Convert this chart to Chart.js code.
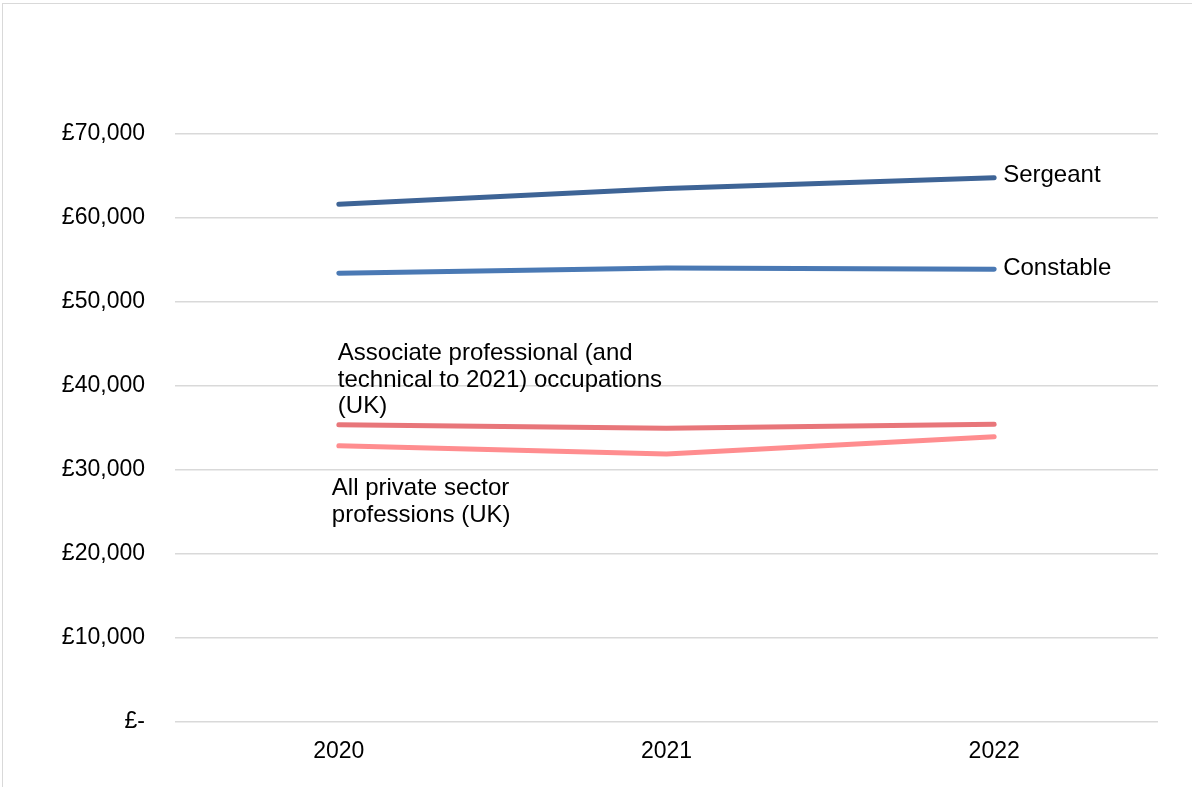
<!DOCTYPE html>
<html>
<head>
<meta charset="utf-8">
<script src="https://cdn.jsdelivr.net/npm/chart.js@4/dist/chart.umd.min.js"></script>
<style>
  html, body { margin: 0; padding: 0; background: #fff; overflow: hidden; }
  #frame { position: absolute; left: 2px; top: 3px; width: 1220px; height: 820px; border: 1px solid #d9d9d9; }
  #wrap { position: absolute; left: 0; top: 0; width: 1192px; height: 787px; }
</style>
</head>
<body>
<div id="frame"></div>
<div id="wrap"><canvas id="payChart"></canvas></div>
<script>
const years = ['2020', '2021', '2022'];
const sergeant = [61630, 63520, 64800];
const constable = [53420, 54050, 53890];
const associateProf = [35390, 34960, 35440];
const privateSector = [32890, 31900, 33960];

const FONT = '"Liberation Sans", Arial, sans-serif';

// labels drawn next to the lines instead of a legend
const lineLabels = {
    id: 'lineLabels',
    afterDatasetsDraw(chart) {
        const ctx = chart.ctx;
        ctx.save();
        ctx.font = '24px ' + FONT;
        ctx.fillStyle = '#000';
        ctx.textBaseline = 'middle';
        ctx.textAlign = 'left';

        const last = i => chart.getDatasetMeta(i).data[2];
        const first = i => chart.getDatasetMeta(i).data[0];

        ctx.fillText('Sergeant', last(0).x + 9, last(0).y - 2);
        ctx.fillText('Constable', last(1).x + 9, last(1).y - 1);

        const a = first(2);
        const aLines = ['Associate professional (and', 'technical to 2021) occupations', '(UK)'];
        aLines.forEach((t, k) => ctx.fillText(t, a.x - 1, a.y - 71 + k * 26.5));

        const p = first(3);
        const pLines = ['All private sector', 'professions (UK)'];
        pLines.forEach((t, k) => ctx.fillText(t, p.x - 7, p.y + 43 + k * 26.5));
        ctx.restore();
    }
};

const ctx = document.getElementById('payChart').getContext('2d');
new Chart(ctx, {
    type: 'line',
    data: {
        labels: years,
        datasets: [
            { label: 'Sergeant', data: sergeant, borderColor: '#3e6496' },
            { label: 'Constable', data: constable, borderColor: '#4a79b4' },
            { label: 'Associate professional (and technical to 2021) occupations (UK)', data: associateProf, borderColor: '#e8767a' },
            { label: 'All private sector professions (UK)', data: privateSector, borderColor: '#ff8d8f' }
        ].map(d => Object.assign(d, {
            borderWidth: 5,
            borderCapStyle: 'round',
            borderJoinStyle: 'round',
            pointRadius: 0,
            tension: 0,
            fill: false
        }))
    },
    options: {
        responsive: true,
        maintainAspectRatio: false,
        animation: false,
        layout: { padding: { top: 134, right: 34, bottom: 0, left: 0 } },
        plugins: {
            legend: { display: false },
            tooltip: { enabled: false }
        },
        scales: {
            x: {
                offset: true,
                grid: { display: false, drawTicks: false },
                border: { display: false },
                ticks: { color: '#000', font: { family: FONT, size: 23 }, padding: 16 },
                afterFit: s => { s.height = 65; }
            },
            y: {
                min: 0,
                max: 70000,
                grid: { color: '#d9d9d9', lineWidth: 1.5, drawTicks: false },
                border: { display: false },
                ticks: {
                    stepSize: 10000,
                    color: '#000',
                    padding: 30,
                    font: { family: FONT, size: 23 },
                    callback: v => v === 0 ? '£-' : '£' + v.toLocaleString('en-GB')
                },
                afterFit: s => { s.width = 175; }
            }
        }
    },
    plugins: [lineLabels]
});
</script>
</body>
</html>
